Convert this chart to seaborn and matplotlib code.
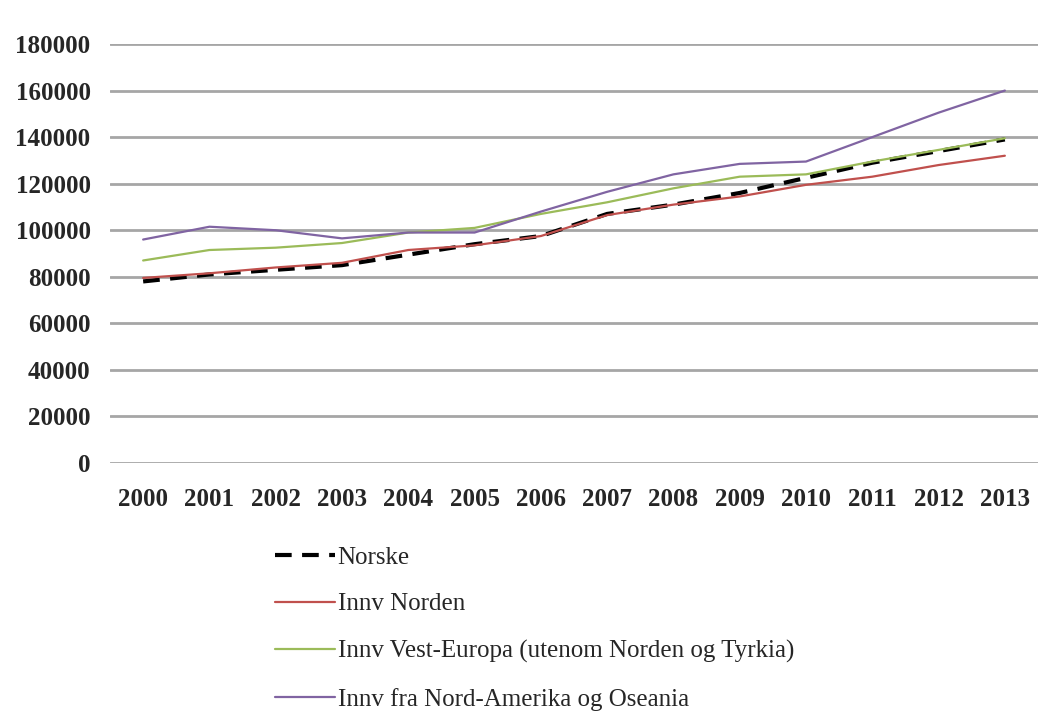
import matplotlib
matplotlib.use("Agg")
import matplotlib.pyplot as plt
import seaborn as sns
import pandas as pd

# data
years = [2000, 2001, 2002, 2003, 2004, 2005, 2006, 2007, 2008, 2009, 2010, 2011, 2012, 2013]
norske = [78000, 81000, 83000, 85000, 89500, 94000, 97500, 107000, 111000, 116000, 122500, 129000, 134000, 139000]
innv_norden = [79500, 81500, 84000, 86000, 91500, 93500, 97500, 106500, 111000, 114500, 119500, 123000, 128000, 132000]
innv_vest = [87000, 91500, 92500, 94500, 99000, 101000, 107000, 112000, 118000, 123000, 124000, 129500, 134500, 139500]
innv_amerika = [96000, 101500, 100000, 96500, 99000, 99000, 108000, 116500, 124000, 128500, 129500, 140000, 150500, 160000]

labels = ["Norske", "Innv Norden", "Innv Vest-Europa (utenom Norden og Tyrkia)",
          "Innv fra Nord-Amerika og Oseania"]
series = [norske, innv_norden, innv_vest, innv_amerika]
colors = ["#000000", "#C0504D", "#9BBB59", "#8064A2"]
widths = [3.0, 1.6, 1.6, 1.6]

sns.set_style("white")
plt.rcParams["font.family"] = ["Liberation Serif", "DejaVu Serif"]

fig = plt.figure(figsize=(10.38, 7.24), dpi=100)
ax = fig.add_axes([110 / 1038, 1 - 463 / 724, 928 / 1038, 419 / 724])

xpos = list(range(len(years)))
for lab, vals, col, lw in zip(labels, series, colors, widths):
    df = pd.DataFrame({"x": xpos, "y": vals})
    sns.lineplot(data=df, x="x", y="y", ax=ax, color=col, linewidth=lw, label=lab)
    if lab == "Norske":
        ax.lines[-1].set_dashes([4, 2.5])

ax.set_xlim(-0.5, 13.5)
ax.set_ylim(0, 180000)
ax.set_yticks(range(0, 180001, 20000))
ax.set_yticklabels([str(v) for v in range(0, 180001, 20000)], fontsize=18, fontweight="bold")
ax.set_xticks(xpos)
ax.set_xticklabels([str(y) for y in years], fontsize=18, fontweight="bold")
ax.tick_params(axis="y", length=0, pad=14)
ax.tick_params(axis="x", length=0, pad=18)
ax.yaxis.grid(True, color="#A6A6A6", linewidth=2)
ax.set_axisbelow(True)
for s in ax.spines.values():
    s.set_visible(False)
ax.set_xlabel("")
ax.set_ylabel("")

handles, labs = ax.get_legend_handles_labels()
ax.get_legend().remove()
fig.legend(handles, labs, loc="upper left", bbox_to_anchor=(275 / 1038, 1 - 546 / 724),
           frameon=False, fontsize=18, labelspacing=0.98, handlelength=2.4,
           handletextpad=0.1, borderaxespad=0, borderpad=0)

fig.savefig("out.png", dpi=100)
